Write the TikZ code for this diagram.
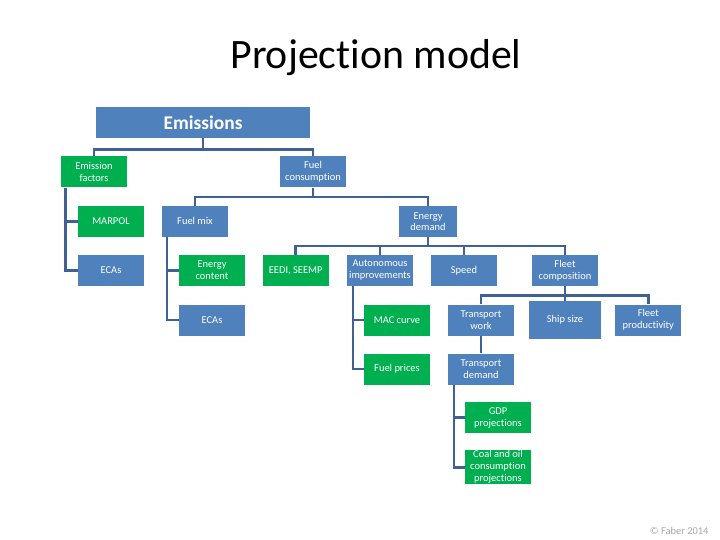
\documentclass[tikz,border=0pt]{standalone}
\usepackage{fontspec}
\setmainfont{Carlito}[Ligatures=NoCommon]
\definecolor{boxblue}{RGB}{79,129,189}
\definecolor{boxgreen}{RGB}{0,176,80}
\definecolor{linkblue}{RGB}{64,98,146}
\tikzset{
  item/.style={minimum width=66bp, minimum height=31bp, inner sep=0.5bp,
    text=white, align=center, font=\fontsize{10.5}{12}\selectfont},
  blue item/.style={item, fill=boxblue},
  green item/.style={item, fill=boxgreen},
  conn/.style={draw=linkblue, line width=2.6bp}
}
\begin{document}
\begin{tikzpicture}[x=1bp,y=-1bp]
    \useasboundingbox (0,0) rectangle (720,540);
    \node[anchor=base,font=\fontsize{42}{46}\selectfont] (title) at (376,69) {Projection model};
    % top levels
    \node[blue item,minimum width=214bp,minimum height=31.6bp,font=\fontsize{19.5}{21}\selectfont\bfseries] (emis) at (203,122.5) {Emissions};
    \node[green item] (efac) at (94,172) {Emission\\factors};
    \node[blue item] (fcons) at (313,172) {Fuel\\consumption};
    % emission factors side
    \node[green item] (marpol) at (111,221.3) {MARPOL};
    \node[blue item] (ecasA) at (111,270.3) {ECAs};
    \node[blue item] (fmix) at (195,221.3) {Fuel mix};
    \node[green item] (econt) at (212,270.3) {Energy\\content};
    \node[blue item] (ecasB) at (212,320) {ECAs};
    % energy demand side
    \node[blue item,minimum width=58bp] (edem) at (428,221.7) {Energy\\demand};
    \node[green item] (eedi) at (295.7,270.3) {EEDI, SEEMP};
    \node[blue item] (auto) at (380,270.3) {Autonomous\\improvements};
    \node[blue item] (speed) at (464,270.3) {Speed};
    \node[blue item] (fcomp) at (565,270.3) {Fleet\\composition};
    \node[green item] (mac) at (397,320) {MAC curve};
    \node[green item] (fprice) at (397,369) {Fuel prices};
    \node[blue item] (twork) at (481,320) {Transport\\work};
    \node[blue item,minimum width=72bp,minimum height=37.7bp] (ssize) at (565,320) {Ship size};
    \node[blue item] (fprod) at (648.3,320) {Fleet\\productivity};
    \node[blue item] (tdem) at (481,369) {Transport\\demand};
    \node[green item] (gdp) at (498,417.7) {GDP\\projections};
    \node[green item] (coal) at (498,467.2) {Coal and oil\\consumption\\projections};
    \node[anchor=east,text=gray!70,font=\fontsize{10.5}{11}\selectfont] (copy) at (712,531) {© Faber 2014};
    % connectors
    \draw[conn] (emis.south) -- ++(0,11);
    \draw[conn] (efac.north) -- ++(0,-7) -| (fcons.north);
    \draw[conn] (fcons.south) -- ++(0,9.7);
    \draw[conn] (fmix.north) -- ++(0,-8.5) -| (edem.north);
    \draw[conn] ([xshift=4.7bp]efac.south west) |- (marpol.west);
    \draw[conn] ([xshift=4.7bp]efac.south west) |- (ecasA.west);
    \draw[conn] ([xshift=5.3bp]fmix.south west) |- (econt.west);
    \draw[conn] ([xshift=5.3bp]fmix.south west) |- (ecasB.west);
    \draw[conn] (edem.south) -- ++(0,10);
    \draw[conn] (eedi.north) -- ++(0,-8.5) -| (fcomp.north);
    \draw[conn] (auto.north) -- ++(0,-8.5);
    \draw[conn] (speed.north) -- ++(0,-8.5);
    \draw[conn] ([xshift=6bp]auto.south west) |- (mac.west);
    \draw[conn] ([xshift=6bp]auto.south west) |- (fprice.west);
    \draw[conn] (fcomp.south) -- (ssize.north);
    \draw[conn] (twork.north) -- ++(0,-9) -| (fprod.north);
    \draw[conn] (twork.south) -- (tdem.north);
    \draw[conn] ([xshift=6bp]tdem.south west) |- (gdp.west);
    \draw[conn] ([xshift=6bp]tdem.south west) |- (coal.west);
\end{tikzpicture}
\end{document}
